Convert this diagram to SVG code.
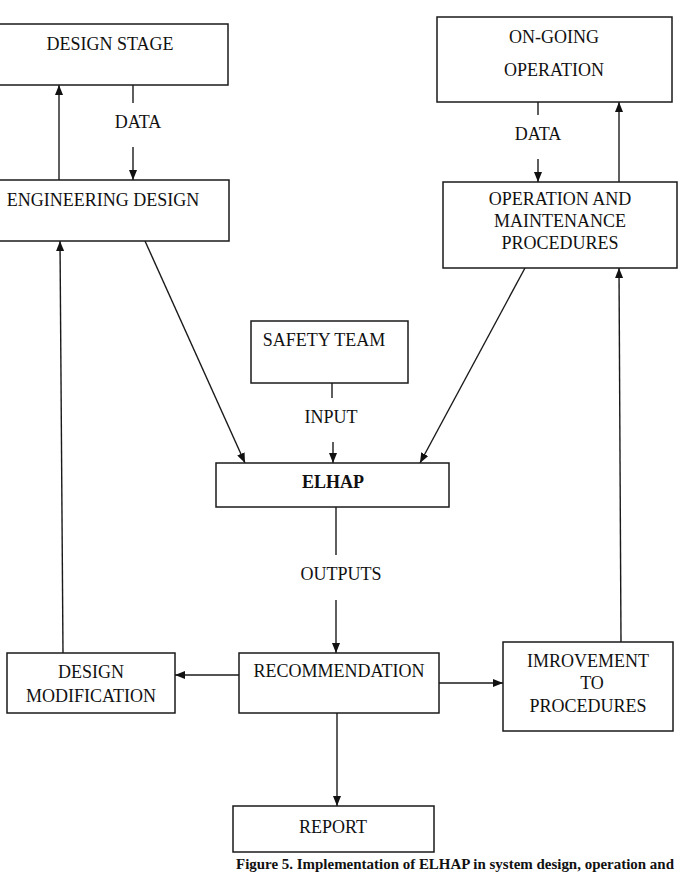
<svg xmlns="http://www.w3.org/2000/svg" width="682" height="877" viewBox="0 0 682 877">
  <defs>
    <marker id="arrow" viewBox="0 0 10 8" refX="10" refY="4" markerWidth="10" markerHeight="8" markerUnits="userSpaceOnUse" orient="auto">
      <path d="M0,0 L10,4 L0,8 Z" fill="#111111"/>
    </marker>
  </defs>
  <style>
    .box { fill: #ffffff; stroke: #1a1a1a; stroke-width: 1.5; }
    .lbl { font-family: "Liberation Serif", "Times New Roman", serif; font-size: 18px; fill: #111111; text-anchor: middle; }
    .bold { font-weight: bold; }
    .conn line { stroke: #1a1a1a; stroke-width: 1.4; fill: none; }
    .cap { font-family: "Liberation Serif", "Times New Roman", serif; font-size: 15px; font-weight: bold; fill: #111111; }
  </style>
  <rect width="682" height="877" fill="#ffffff"/>

  <!-- connectors -->
  <g class="conn">
    <!-- engineering design up to design stage -->
    <line x1="59" y1="180" x2="59" y2="85" marker-end="url(#arrow)"/>
    <!-- design stage data down to engineering design -->
    <line x1="133" y1="85" x2="133" y2="103"/>
    <line x1="133" y1="147" x2="133" y2="180" marker-end="url(#arrow)"/>
    <!-- ongoing operation data down to procedures -->
    <line x1="538" y1="102" x2="538" y2="115"/>
    <line x1="538" y1="159" x2="538" y2="182" marker-end="url(#arrow)"/>
    <!-- procedures up to ongoing operation -->
    <line x1="619" y1="182" x2="619" y2="102" marker-end="url(#arrow)"/>
    <!-- into ELHAP -->
    <line x1="145" y1="241" x2="245" y2="463" marker-end="url(#arrow)"/>
    <line x1="525" y1="268" x2="420" y2="463" marker-end="url(#arrow)"/>
    <line x1="332" y1="383" x2="332" y2="398"/>
    <line x1="333" y1="442" x2="333" y2="463" marker-end="url(#arrow)"/>
    <!-- ELHAP outputs -->
    <line x1="336" y1="507" x2="336" y2="555"/>
    <line x1="336" y1="600" x2="336" y2="653" marker-end="url(#arrow)"/>
    <!-- recommendation branches -->
    <line x1="239" y1="675" x2="175" y2="675" marker-end="url(#arrow)"/>
    <line x1="439" y1="683" x2="503" y2="683" marker-end="url(#arrow)"/>
    <line x1="337" y1="713" x2="337" y2="806" marker-end="url(#arrow)"/>
    <!-- feedback loops -->
    <line x1="63" y1="653" x2="60" y2="241" marker-end="url(#arrow)"/>
    <line x1="621" y1="642" x2="619" y2="268" marker-end="url(#arrow)"/>
  </g>

  <g id="design-stage">
    <rect class="box" x="-2" y="24" width="230" height="61"/>
    <text class="lbl" x="110" y="50">DESIGN STAGE</text>
  </g>

  <g id="data-left">
    <text class="lbl" x="138" y="128">DATA</text>
  </g>

  <g id="engineering-design">
    <rect class="box" x="-2" y="180" width="231" height="61"/>
    <text class="lbl" x="103" y="206">ENGINEERING DESIGN</text>
  </g>

  <g id="ongoing-operation">
    <rect class="box" x="437" y="17" width="235" height="85"/>
    <text class="lbl" x="554" y="43">ON-GOING</text>
    <text class="lbl" x="554" y="76">OPERATION</text>
  </g>

  <g id="data-right">
    <text class="lbl" x="538" y="140">DATA</text>
  </g>

  <g id="om-procedures">
    <rect class="box" x="443" y="182" width="234" height="86"/>
    <text class="lbl" x="560" y="205">OPERATION AND</text>
    <text class="lbl" x="560" y="227">MAINTENANCE</text>
    <text class="lbl" x="560" y="249">PROCEDURES</text>
  </g>

  <g id="safety-team">
    <rect class="box" x="251" y="321" width="157" height="62"/>
    <text class="lbl" x="324" y="346">SAFETY TEAM</text>
  </g>

  <g id="input-label">
    <text class="lbl" x="331" y="423">INPUT</text>
  </g>

  <g id="elhap">
    <rect class="box" x="216" y="463" width="233" height="44"/>
    <text class="lbl bold" x="333" y="488">ELHAP</text>
  </g>

  <g id="outputs-label">
    <text class="lbl" x="341" y="580">OUTPUTS</text>
  </g>

  <g id="recommendation">
    <rect class="box" x="239" y="653" width="200" height="60"/>
    <text class="lbl" x="339" y="677">RECOMMENDATION</text>
  </g>

  <g id="design-modification">
    <rect class="box" x="7" y="653" width="168" height="60"/>
    <text class="lbl" x="91" y="678">DESIGN</text>
    <text class="lbl" x="91" y="702">MODIFICATION</text>
  </g>

  <g id="improvement">
    <rect class="box" x="503" y="642" width="170" height="89"/>
    <text class="lbl" x="588" y="667">IMROVEMENT</text>
    <text class="lbl" x="592" y="689">TO</text>
    <text class="lbl" x="588" y="712">PROCEDURES</text>
  </g>

  <g id="report">
    <rect class="box" x="233" y="806" width="201" height="46"/>
    <text class="lbl" x="333" y="833">REPORT</text>
  </g>

  <g id="caption">
    <text class="cap" x="236" y="869" textLength="438" lengthAdjust="spacingAndGlyphs">Figure 5. Implementation of ELHAP in system design, operation and</text>
  </g>
</svg>
